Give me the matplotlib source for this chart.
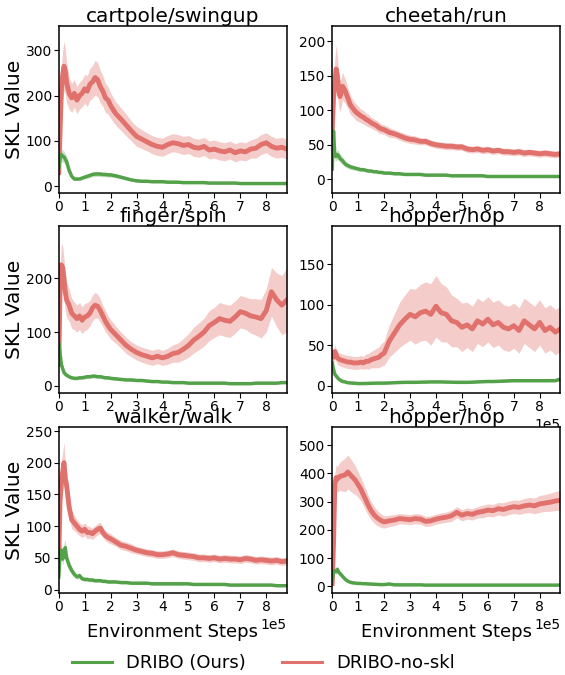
import numpy as np
import matplotlib
matplotlib.use("Agg")
import matplotlib.pyplot as plt
from matplotlib.lines import Line2D

# environment steps (x 1e5)
steps = [0, 0.05, 0.1, 0.15, 0.2, 0.25, 0.3, 0.4, 0.5, 0.6, 0.7, 0.8, 0.9, 1.0,
         1.1, 1.2, 1.3, 1.4, 1.5, 1.6, 1.7, 1.8, 1.9, 2.0, 2.2, 2.4, 2.6, 2.8,
         3.0, 3.2, 3.4, 3.6, 3.8, 4.0, 4.2, 4.4, 4.6, 4.8, 5.0, 5.2, 5.4, 5.6,
         5.8, 6.0, 6.2, 6.4, 6.6, 6.8, 7.0, 7.2, 7.4, 7.6, 7.8, 8.0, 8.2, 8.4,
         8.6, 8.8]

titles = ["cartpole/swingup", "cheetah/run", "finger/spin",
          "hopper/hop", "walker/walk", "hopper/hop"]

# DRIBO-no-skl mean / spread
cartpole_red = [30, 120, 210, 245, 265, 255, 230, 205, 195, 205, 190, 200, 205, 215,
                210, 225, 230, 240, 235, 220, 210, 195, 190, 178, 160, 148, 135, 122,
                110, 104, 98, 92, 88, 86, 92, 96, 94, 90, 92, 86, 84, 88,
                80, 82, 78, 76, 80, 74, 78, 76, 82, 84, 92, 96, 88, 84, 86, 82]
cartpole_red_sd = [10, 40, 50, 55, 55, 50, 45, 35, 32, 30, 30, 30, 30, 32,
                   34, 35, 36, 38, 38, 36, 34, 32, 30, 28, 26, 25, 24, 22,
                   22, 21, 20, 20, 20, 20, 20, 20, 20, 20, 20, 20, 20, 20,
                   20, 20, 20, 20, 20, 20, 20, 20, 20, 22, 22, 22, 22, 22, 22, 22]
cheetah_red = [70, 120, 140, 160, 150, 130, 120, 135, 128, 118, 108, 103, 98, 95,
               92, 90, 87, 85, 82, 80, 78, 75, 73, 72, 68, 66, 63, 60,
               58, 57, 55, 55, 52, 50, 49, 48, 48, 47, 47, 44, 43, 44,
               42, 43, 41, 42, 40, 40, 39, 40, 38, 39, 38, 37, 38, 37, 36, 37]
cheetah_red_sd = [10, 25, 35, 35, 30, 25, 22, 20, 18, 15, 14, 12, 12, 11,
                  10, 10, 9, 9, 8, 8, 8, 8, 7, 7, 7, 6, 6, 6,
                  6, 6, 5, 5, 5, 5, 5, 5, 5, 5, 5, 5, 5, 5,
                  5, 5, 5, 5, 5, 5, 5, 5, 5, 5, 5, 5, 5, 5, 5, 5]
finger_red = [40, 180, 225, 220, 200, 175, 160, 150, 135, 130, 125, 130, 122, 128,
              130, 135, 145, 150, 148, 140, 130, 120, 112, 105, 95, 85, 75, 68,
              62, 58, 55, 52, 55, 52, 55, 60, 62, 68, 75, 85, 92, 100,
              112, 118, 125, 122, 120, 128, 138, 135, 130, 128, 125, 140, 175, 160, 150, 160]
finger_red_sd = [10, 40, 40, 40, 38, 35, 32, 30, 28, 26, 25, 25, 25, 25,
                 25, 24, 24, 24, 22, 22, 20, 20, 18, 18, 16, 15, 15, 14,
                 14, 14, 14, 14, 14, 14, 15, 16, 18, 20, 22, 24, 25, 26,
                 28, 28, 30, 30, 30, 30, 30, 30, 32, 34, 36, 40, 45, 50, 55, 60]
hopper_red = [40, 35, 42, 38, 34, 33, 32, 31, 30, 29, 29, 28, 28, 28,
              29, 28, 30, 30, 32, 33, 34, 35, 38, 40, 55, 65, 75, 82,
              88, 85, 90, 92, 88, 98, 90, 88, 80, 78, 72, 75, 70, 80,
              76, 82, 75, 78, 72, 70, 74, 68, 80, 75, 70, 78, 68, 72, 66, 70]
hopper_red_sd = [8, 8, 8, 8, 8, 8, 8, 8, 8, 8, 8, 8, 8, 8,
                 8, 8, 9, 10, 10, 11, 12, 13, 14, 15, 20, 24, 28, 30,
                 32, 34, 35, 36, 38, 38, 36, 34, 32, 30, 30, 28, 28, 28,
                 28, 28, 28, 28, 28, 28, 28, 28, 28, 28, 28, 28, 28, 28, 28, 28]
walker_red = [50, 140, 170, 185, 200, 175, 165, 130, 110, 105, 100, 95, 92, 95,
              90, 90, 88, 92, 95, 97, 90, 85, 82, 80, 75, 70, 68, 65,
              62, 60, 58, 57, 55, 55, 56, 58, 55, 54, 53, 52, 50, 50,
              49, 50, 48, 49, 48, 48, 47, 49, 48, 46, 47, 46, 45, 46, 44, 45]
walker_red_sd = [10, 25, 30, 32, 32, 28, 24, 18, 14, 12, 11, 10, 10, 10,
                 10, 9, 9, 9, 9, 9, 8, 8, 8, 8, 7, 7, 7, 7,
                 6, 6, 6, 6, 6, 6, 6, 6, 6, 6, 6, 6, 6, 6,
                 6, 6, 6, 6, 6, 6, 6, 6, 6, 6, 6, 6, 6, 6, 6, 6]
hopper2_red = [10, 150, 360, 385, 380, 385, 390, 392, 395, 405, 395, 385, 375, 360,
               345, 325, 305, 285, 268, 255, 245, 238, 232, 228, 232, 235, 240, 238,
               236, 240, 238, 230, 232, 238, 242, 245, 250, 262, 252, 258, 255, 262,
               265, 270, 268, 275, 272, 278, 282, 280, 285, 288, 285, 292, 295, 298, 302, 305]
hopper2_red_sd = [10, 30, 40, 45, 45, 48, 50, 55, 60, 60, 58, 55, 50, 45,
                  42, 40, 38, 35, 32, 30, 28, 26, 24, 22, 20, 20, 18, 18,
                  18, 18, 18, 18, 18, 18, 18, 18, 20, 20, 20, 20, 20, 20,
                  22, 22, 22, 22, 24, 24, 24, 25, 26, 27, 28, 30, 30, 32, 34, 35]

# DRIBO (Ours) mean
cartpole_green = [40, 65, 70, 66, 65, 60, 55, 35, 22, 16, 16, 16, 18, 20,
                  22, 24, 26, 27, 27, 27, 26, 26, 25, 25, 23, 20, 17, 14,
                  12, 11, 11, 10, 10, 10, 9, 9, 9, 8, 8, 8, 8, 8,
                  7, 7, 7, 7, 7, 7, 6, 6, 6, 6, 6, 6, 6, 6, 6, 6]
cheetah_green = [15, 70, 35, 33, 36, 34, 30, 27, 22, 20, 18, 17, 16, 15,
                 14, 14, 13, 12, 12, 11, 11, 10, 10, 9, 9, 8, 8, 7,
                 7, 7, 7, 6, 6, 6, 6, 6, 5, 5, 5, 5, 5, 5,
                 5, 4, 4, 4, 4, 4, 4, 4, 4, 4, 4, 4, 4, 4, 4, 4]
finger_green = [80, 60, 40, 32, 25, 22, 20, 17, 15, 14, 14, 15, 15, 16,
                17, 17, 18, 18, 17, 17, 16, 15, 15, 14, 13, 12, 11, 11,
                10, 10, 9, 8, 8, 7, 7, 6, 6, 6, 5, 5, 5, 5,
                5, 5, 5, 5, 4, 4, 4, 4, 4, 5, 5, 5, 5, 5, 6, 6]
hopper_green = [28, 20, 14, 12, 10, 8, 7, 5, 4.5, 3.5, 3.2, 3, 2.8, 2.5,
                2.5, 2.5, 2.6, 2.7, 2.8, 2.9, 3, 3, 3, 3, 3.2, 3.5, 3.8, 4,
                4, 4, 4.2, 4.3, 4.5, 4.5, 4.5, 4.3, 4.2, 4, 4, 4, 4.2, 4.5,
                4.8, 5, 5, 5.2, 5.5, 5.8, 6, 6, 6, 6, 6, 6, 6, 6, 6, 8]
walker_green = [20, 55, 62, 48, 60, 66, 50, 38, 30, 24, 20, 22, 17, 16,
                16, 15, 15, 14, 14, 14, 13, 13, 12, 12, 12, 11, 11, 10,
                10, 10, 10, 9, 9, 9, 9, 9, 9, 9, 9, 8, 8, 8,
                8, 8, 8, 8, 7, 7, 7, 7, 7, 7, 7, 7, 7, 6, 6, 6]
hopper2_green = [20, 50, 55, 52, 60, 50, 45, 35, 25, 18, 14, 12, 11, 10,
                 10, 9, 9, 8, 8, 7, 7, 6, 6, 6, 8, 5, 5, 5,
                 5, 5, 5, 4, 4, 4, 4, 4, 4, 4, 4, 4, 4, 4,
                 4, 4, 4, 4, 4, 4, 4, 4, 4, 4, 4, 4, 4, 4, 4, 4]

red_means = [cartpole_red, cheetah_red, finger_red, hopper_red, walker_red, hopper2_red]
red_sds = [cartpole_red_sd, cheetah_red_sd, finger_red_sd, hopper_red_sd,
           walker_red_sd, hopper2_red_sd]
green_means = [cartpole_green, cheetah_green, finger_green, hopper_green,
               walker_green, hopper2_green]

ylims = [(-15, 353), (-20, 222), (-13, 297), (-9, 197), (-6, 257), (-25, 566)]
yticks = [[0, 100, 200, 300], [0, 50, 100, 150, 200], [0, 100, 200],
          [0, 50, 100, 150], [0, 50, 100, 150, 200, 250], [0, 100, 200, 300, 400, 500]]

GREEN = "#53a148"
RED = "#e0716c"

plt.rcParams.update({"font.family": "DejaVu Sans"})

fig = plt.figure(figsize=(5.65, 6.75), dpi=100)
lefts = [0.104, 0.588]
bottoms = [0.714, 0.418, 0.121]
w, h = 0.404, 0.247

x = np.array(steps) * 1e5
for i in range(6):
    r, c = divmod(i, 2)
    ax = fig.add_axes([lefts[c], bottoms[r], w, h])
    m = np.array(red_means[i], dtype=float)
    s = np.array(red_sds[i], dtype=float)
    ax.fill_between(x, m - s, m + s, color=RED, alpha=0.35, lw=0)
    ax.plot(x, m, color=RED, lw=3.5)
    g = np.array(green_means[i], dtype=float)
    ax.fill_between(x, g * 0.8, g * 1.2, color=GREEN, alpha=0.3, lw=0)
    ax.plot(x, g, color=GREEN, lw=2.5)

    ax.set_xlim(0, 8.8e5)
    ax.set_ylim(*ylims[i])
    ax.set_yticks(yticks[i])
    ax.set_xticks(np.arange(0, 9) * 1e5)
    ax.ticklabel_format(axis="x", style="sci", scilimits=(0, 0))
    ax.tick_params(labelsize=10, length=3.5, pad=1.5)
    ax.xaxis.get_offset_text().set_fontsize(10)
    if i < 3:
        ax.xaxis.get_offset_text().set_visible(False)
    ax.set_title(titles[i], fontsize=14.5, pad=1)
    if c == 0:
        ax.set_ylabel("SKL Value", fontsize=14.5, labelpad=1)
    if r == 2:
        ax.set_xlabel("Environment Steps", fontsize=13, labelpad=6)
    for sp in ax.spines.values():
        sp.set_linewidth(1.1)

handles = [Line2D([], [], color=GREEN, lw=2.2), Line2D([], [], color=RED, lw=2.2)]
fig.legend(handles, ["DRIBO (Ours)", "DRIBO-no-skl"], loc="center", ncol=2,
           bbox_to_anchor=(0.466, 0.018), frameon=False, fontsize=13,
           handlelength=2.2, columnspacing=2.0)

fig.savefig("out.png", dpi=100)
